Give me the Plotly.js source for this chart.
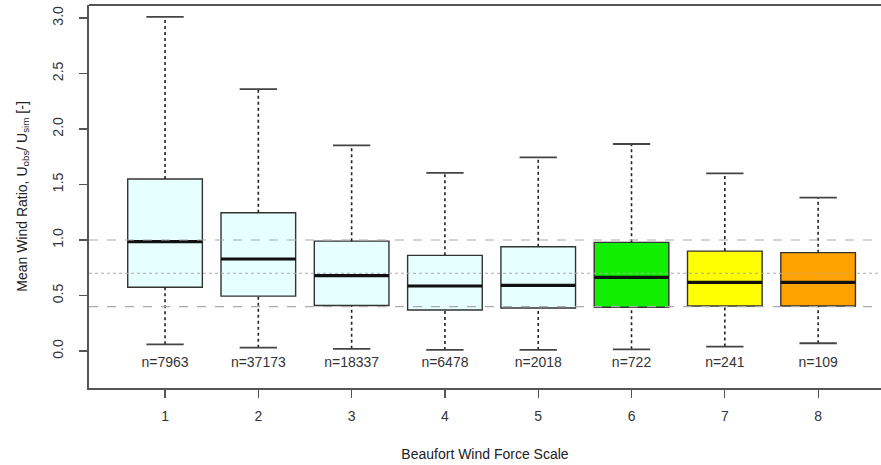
<!DOCTYPE html>
<html>
<head>
<meta charset="utf-8">
<script src="https://cdn.plot.ly/plotly-3.0.1.min.js"></script>
<style>html,body{margin:0;padding:0;background:#fff;}#chart{width:881px;height:465px;}</style>
</head>
<body>
<div id="chart"></div>
<script>
const categories   = [1, 2, 3, 4, 5, 6, 7, 8];
const lowerWhisker = [0.06, 0.03, 0.02, 0.01, 0.01, 0.015, 0.04, 0.07];
const q1           = [0.574, 0.495, 0.41, 0.369, 0.387, 0.394, 0.405, 0.405];
const median       = [0.985, 0.829, 0.679, 0.586, 0.592, 0.664, 0.619, 0.619];
const q3           = [1.55, 1.246, 0.99, 0.862, 0.94, 0.979, 0.90, 0.886];
const upperWhisker = [3.01, 2.36, 1.853, 1.604, 1.745, 1.865, 1.60, 1.381];
const counts       = [7963, 37173, 18337, 6478, 2018, 722, 241, 109];
const boxColors    = ['#e6ffff', '#e6ffff', '#e6ffff', '#e6ffff', '#e6ffff', '#11ee00', '#ffff00', '#ffa200'];
const refLevels    = [1.0, 0.7, 0.4];
const refDash      = ['dash', 'dot', 'dash'];
const nLabelY      = -0.11;

const BOX_HALF = 0.4, CAP_HALF = 0.2;
const FONT = 'Liberation Sans, Arial, sans-serif';
const traces = [];

// whiskers (dotted)
const wx = [], wy = [];
categories.forEach((c, i) => {
  wx.push(c, c, null, c, c, null);
  wy.push(q3[i], upperWhisker[i], null, lowerWhisker[i], q1[i], null);
});
traces.push({type: 'scatter', mode: 'lines', x: wx, y: wy, hoverinfo: 'skip',
  line: {color: '#222', width: 1.6, dash: 'dot'}, showlegend: false});

// caps
const cx = [], cy = [];
categories.forEach((c, i) => {
  cx.push(c - CAP_HALF, c + CAP_HALF, null, c - CAP_HALF, c + CAP_HALF, null);
  cy.push(upperWhisker[i], upperWhisker[i], null, lowerWhisker[i], lowerWhisker[i], null);
});
traces.push({type: 'scatter', mode: 'lines', x: cx, y: cy, hoverinfo: 'skip',
  line: {color: '#444', width: 1.8}, showlegend: false});

// boxes
categories.forEach((c, i) => {
  traces.push({
    type: 'box', x: [c], q1: [q1[i]], median: [median[i]], q3: [q3[i]],
    lowerfence: [q1[i]], upperfence: [q3[i]], width: 2 * BOX_HALF,
    fillcolor: boxColors[i], line: {color: '#333', width: 1.4},
    whiskerwidth: 0, boxpoints: false, showlegend: false, name: String(c)
  });
});

// medians (thick)
const mx = [], my = [];
categories.forEach((c, i) => {
  mx.push(c - BOX_HALF, c + BOX_HALF, null);
  my.push(median[i], median[i], null);
});
traces.push({type: 'scatter', mode: 'lines', x: mx, y: my, hoverinfo: 'skip',
  line: {color: '#111', width: 3.2}, showlegend: false});

// n labels
traces.push({type: 'scatter', mode: 'text', x: categories,
  y: categories.map(() => nLabelY), text: counts.map(n => 'n=' + n),
  textfont: {family: FONT, size: 14, color: '#333'},
  hoverinfo: 'skip', showlegend: false});

const shapes = refLevels.map((v, i) => ({
  type: 'line', xref: 'paper', yref: 'y', x0: 0, x1: 1, y0: v, y1: v,
  line: {color: '#aaa', width: 1.1, dash: refDash[i]}, layer: 'above'
}));
shapes.push({type: 'line', xref: 'paper', yref: 'paper', x0: 0, x1: 1, y0: 1, y1: 1,
  line: {color: '#555', width: 2}});

const layout = {
  width: 881, height: 465,
  margin: {l: 89, r: 0, t: 5, b: 77},
  paper_bgcolor: '#fff', plot_bgcolor: '#fff',
  font: {family: FONT, size: 14, color: '#333'},
  boxmode: 'overlay',
  showlegend: false,
  xaxis: {
    range: [0.185, 8.674], tickvals: categories, ticktext: categories.map(String),
    showgrid: false, zeroline: false, showline: true, linecolor: '#555', linewidth: 2,
    ticks: 'outside', ticklen: 8, tickcolor: '#555', tickwidth: 1.2, ticklabelstandoff: 6,
    tickfont: {family: FONT, size: 14, color: '#333'},
    title: {text: 'Beaufort Wind Force Scale', font: {family: FONT, size: 14, color: '#222'}, standoff: 26}
  },
  yaxis: {
    range: [-0.333, 3.117], tickvals: [0, 0.5, 1, 1.5, 2, 2.5, 3],
    ticktext: ['0.0', '0.5', '1.0', '1.5', '2.0', '2.5', '3.0'],
    showgrid: false, zeroline: false, showline: true, linecolor: '#555', linewidth: 2,
    ticks: 'outside', ticklen: 8, tickcolor: '#555', tickwidth: 1.2, tickangle: -90,
    ticklabelstandoff: 10,
    tickfont: {family: FONT, size: 14, color: '#333'},
    title: {text: 'Mean Wind Ratio, U<sub>obs</sub>/ U<sub>sim</sub> [-]', font: {family: FONT, size: 14, color: '#222'}, standoff: 20}
  },
  shapes: shapes
};

Plotly.newPlot('chart', traces, layout, {displayModeBar: false, staticPlot: true});
</script>
</body>
</html>
